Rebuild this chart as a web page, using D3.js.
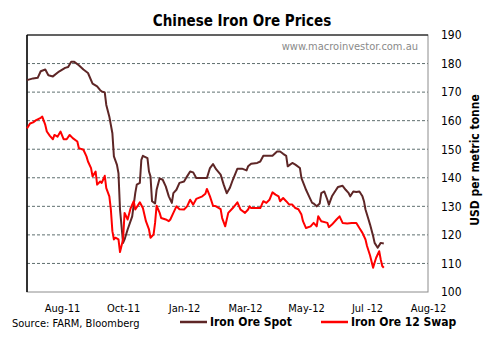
<!DOCTYPE html>
<html>
<head>
<meta charset="utf-8">
<script src="https://cdn.jsdelivr.net/npm/d3@7"></script>
<style>
  html, body { margin: 0; padding: 0; background: #fff; }
  svg { display: block; font-family: Tahoma, "DejaVu Sans Condensed", "Liberation Sans", sans-serif; }
</style>
</head>
<body>
<svg id="chart" width="484" height="345"></svg>
<script>
// Trading-day index on the x axis; values in USD per metric tonne.
const tickLabels = ["Aug-11", "Oct-11", "Jan-12", "Mar-12", "May-12", "Jul -12", "Aug-12"];
const tickDays = [23, 63, 103, 143, 183, 223, 263];
const yTicks = [100, 110, 120, 130, 140, 150, 160, 170, 180, 190];

// [trading day, price]
const spotSeries = [
  [0,174.2],[4,174.8],[7,175],[9,177.3],[12,177.9],[14,175.9],[17,175.5],[21,177.2],[25,178.5],[27,178.8],
  [29,180.6],[31,180.6],[34,179.4],[37,177.9],[40,176.7],[43,173],[46,172],[48,170.7],[49,170.2],[51,169.9],
  [52,165.5],[54,161.4],[56,155.6],[57,147.5],[59,144.5],[60,141.6],[61,128.9],[63,117.2],[64,118.4],[66,121.9],
  [69,126.5],[71,134.6],[72,137.6],[74,138.2],[75,146.3],[76,147.7],[79,146.9],[80,142.2],[81,140.5],[82,131.8],
  [84,131],[85,135.8],[87,139.8],[89,139.3],[91,137],[93,133.5],[95,131.2],[96,134.6],[98,135.8],[100,138.2],
  [103,138.7],[105,140.5],[107,142.2],[109,141.9],[111,139.9],[115,139.9],[118,139.9],[120,143.4],[122,144.8],[124,143],
  [127,141.1],[129,137.6],[131,134.6],[133,136.4],[135,139.3],[138,143.2],[141,143.2],[144,142.6],[145,144],[147,144.9],
  [151,145.2],[153,145.7],[155,147.7],[158,147.7],[161,147.7],[164,149.2],[166,149.2],[168,148.4],[170,147.7],[171,144],
  [174,145.2],[176,144.6],[179,143.4],[180,139.9],[182,137.2],[183,135.8],[185,133.5],[187,131.2],[188,131],[190,130],
  [192,131],[193,134.6],[195,135.2],[197,132.3],[198,130.6],[200,133.5],[202,135.2],[204,136.8],[207,137.2],[209,135.8],
  [211,134.6],[212,133.5],[214,135.2],[216,135],[218,135.2],[220,133.5],[221,131.8],[222,128.9],[224,125.4],[225,123.6],
  [227,119.6],[228,117.2],[230,115.5],[232,117.2],[234,117]
];

const swapSeries = [
  [0,157.3],[2,159],[4,159.4],[6,160.2],[9,161],[10,161.4],[12,158.5],[13,156.2],[15,154.7],[17,153.5],
  [18,155],[20,154.4],[22,156.2],[24,153.5],[26,153.5],[28,155],[30,153.9],[33,152.7],[34,150.4],[37,149.8],
  [39,147.5],[40,145.7],[42,143.4],[43,140.5],[45,142.2],[46,137.6],[48,138.7],[49,138.2],[51,140.7],[52,136.4],
  [54,133.5],[55,128.9],[56,121.3],[57,118.4],[58,119],[60,118.4],[61,114],[63,118.4],[64,127.7],[66,125.4],
  [68,129.4],[70,131.8],[71,128.9],[74,131.4],[76,129.4],[78,124.8],[80,121.9],[81,119],[83,120.1],[84,124.2],
  [85,130.2],[87,127.7],[88,125.9],[91,125.4],[93,124.8],[94,125.4],[96,127.7],[98,130],[100,129],[103,128.9],
  [105,130],[107,132.3],[109,130.6],[111,132.6],[115,133.5],[117,134.4],[118,136.1],[120,133.5],[122,130.2],[124,130],
  [127,129],[128,125.9],[130,123],[132,127.7],[135,129.4],[138,131.4],[140,128.9],[143,127.7],[145,128.9],[146,130],
  [147,129.4],[151,129.4],[153,129.4],[155,131.8],[157,131.2],[159,132.3],[161,134.9],[163,134.1],[165,133.5],[166,131.8],
  [168,132.9],[170,131.8],[172,130.6],[174,130.6],[176,129.4],[178,129],[180,127.1],[181,124.8],[183,122.4],[186,123],
  [188,124.2],[190,123],[191,126.5],[193,124.8],[197,124.2],[198,122.7],[200,123.6],[203,125.4],[205,126.5],[207,124.2],
  [210,124],[213,124.2],[216,124.2],[218,122.4],[220,120.7],[222,118.4],[223,116.1],[225,112.8],[227,108.5],[228,110.3],
  [229,112],[231,114.3],[232,111.4],[233,109.1],[234,108.5]
];

const seriesNames = ["Iron Ore Spot", "Iron Ore 12 Swap"];
const seriesColors = ["#5e2626", "#ff0000"];

const svg = d3.select("#chart");
const plot = { left: 27, right: 428, top: 35, bottom: 292 };

const x = d3.scaleLinear().domain([0, 263]).range([plot.left, plot.right]);
const y = d3.scaleLinear().domain([100, 190]).range([plot.bottom, plot.top]);

// Title
svg.append("text")
  .attr("x", 242).attr("y", 26)
  .attr("text-anchor", "middle")
  .attr("font-size", 15).attr("font-weight", "bold")
  .attr("fill", "#000")
  .text("Chinese Iron Ore Prices");

// Horizontal dashed gridlines
svg.append("g")
  .selectAll("line")
  .data(yTicks.filter(v => v > 100 && v < 190))
  .join("line")
  .attr("x1", plot.left).attr("x2", plot.right)
  .attr("y1", d => y(d)).attr("y2", d => y(d))
  .attr("stroke", "#5f6f6f").attr("stroke-width", 1)
  .attr("stroke-dasharray", "3,2");

// Plot frame
svg.append("rect")
  .attr("x", plot.left).attr("y", plot.top)
  .attr("width", plot.right - plot.left).attr("height", plot.bottom - plot.top)
  .attr("fill", "none").attr("stroke", "#8c8c8c").attr("stroke-width", 1);
svg.append("line")
  .attr("x1", plot.left).attr("x2", plot.right)
  .attr("y1", plot.top).attr("y2", plot.top)
  .attr("stroke", "#000");
svg.append("line")
  .attr("x1", plot.left).attr("x2", plot.left)
  .attr("y1", plot.top).attr("y2", plot.bottom)
  .attr("stroke", "#000").attr("stroke-width", 1.5);

// Watermark
svg.append("text")
  .attr("x", 418).attr("y", 50)
  .attr("text-anchor", "end")
  .attr("font-size", 11).attr("fill", "#8a8a8a")
  .text("www.macroinvestor.com.au");

// Right-hand value axis (labels only)
const yAxis = d3.axisRight(y).tickValues(yTicks).tickSize(0).tickPadding(0);
const yg = svg.append("g").attr("transform", `translate(441,0)`).call(yAxis);
yg.select(".domain").remove();
yg.selectAll("text").attr("font-size", 12).attr("fill", "#000")
  .attr("font-family", "Tahoma, 'DejaVu Sans Condensed', 'Liberation Sans', sans-serif");

svg.append("text")
  .attr("transform", "translate(479,160) rotate(-90)")
  .attr("text-anchor", "middle")
  .attr("font-size", 12).attr("font-weight", "bold")
  .text("USD per metric tonne");

// Category axis labels
const xAxis = d3.axisBottom(x).tickValues(tickDays)
  .tickFormat((d, i) => tickLabels[i]).tickSize(0).tickPadding(0);
const xg = svg.append("g").attr("transform", `translate(0,304)`).call(xAxis);
xg.select(".domain").remove();
xg.selectAll("text").attr("font-size", 11).attr("fill", "#000")
  .attr("font-family", "Tahoma, 'DejaVu Sans Condensed', 'Liberation Sans', sans-serif");

// Price lines
const line = d3.line().x(d => x(d[0])).y(d => y(d[1]));
[spotSeries, swapSeries].forEach((s, i) => {
  svg.append("path")
    .datum(s)
    .attr("d", line)
    .attr("fill", "none")
    .attr("stroke", seriesColors[i])
    .attr("stroke-width", 2)
    .attr("stroke-linejoin", "round");
});

// Source note
svg.append("text")
  .attr("x", 12).attr("y", 327)
  .attr("font-size", 11).attr("fill", "#000")
  .text("Source: FARM, Bloomberg");

// Legend
const legendX = [180, 321];
seriesNames.forEach((name, i) => {
  svg.append("line")
    .attr("x1", legendX[i]).attr("x2", legendX[i] + 27)
    .attr("y1", 322).attr("y2", 322)
    .attr("stroke", seriesColors[i]).attr("stroke-width", 2.5);
  svg.append("text")
    .attr("x", legendX[i] + 30).attr("y", 326)
    .attr("font-size", 12).attr("font-weight", "bold")
    .text(name);
});
</script>
</body>
</html>
